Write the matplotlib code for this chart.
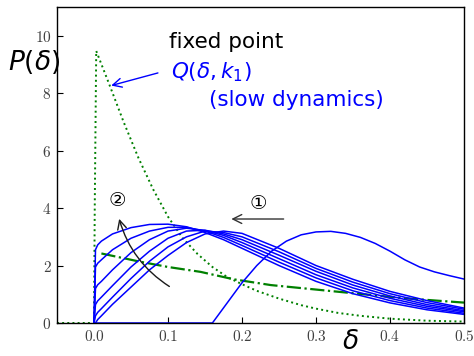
import numpy as np
import matplotlib
matplotlib.use("Agg")
import matplotlib.pyplot as plt

# fixed point Q(delta, k1), dotted green
q_d = [-0.05, 0.0, 0.001, 0.003, 0.02, 0.04, 0.06, 0.08, 0.1, 0.12, 0.14, 0.16, 0.18,
       0.2, 0.22, 0.25, 0.28, 0.3, 0.33, 0.36, 0.4, 0.45, 0.5]
q_p = [0.0, 0.0, 4.0, 9.47, 8.35, 7.0, 5.75, 4.65, 3.7, 2.95, 2.4, 1.95, 1.6,
       1.35, 1.12, 0.85, 0.62, 0.5, 0.35, 0.25, 0.15, 0.08, 0.05]

# dash-dot green curve
h_d = [0.01, 0.063, 0.1, 0.144, 0.189, 0.239, 0.329, 0.42, 0.5]
h_p = [2.42, 2.13, 1.95, 1.78, 1.52, 1.32, 1.09, 0.86, 0.71]

# family of blue curves (step 2)
fam_d = [0.0, 0.002, 0.005, 0.01, 0.025, 0.05, 0.075, 0.1, 0.125, 0.15, 0.175, 0.2,
         0.25, 0.3, 0.35, 0.4, 0.45, 0.5]
fam_a = [0, 2.55, 2.72, 2.85, 3.1, 3.32, 3.43, 3.44, 3.35, 3.15, 2.9, 2.6, 2.0, 1.45, 1.02, 0.7, 0.46, 0.3]
fam_b = [0, 1.95, 2.08, 2.2, 2.55, 2.95, 3.2, 3.33, 3.33, 3.2, 2.98, 2.7, 2.12, 1.57, 1.12, 0.78, 0.52, 0.34]
fam_c = [0, 1.2, 1.33, 1.45, 1.85, 2.45, 2.9, 3.2, 3.3, 3.22, 3.05, 2.8, 2.24, 1.68, 1.22, 0.86, 0.58, 0.39]
fam_dd = [0, 0.64, 0.77, 0.9, 1.3, 1.95, 2.5, 2.95, 3.2, 3.23, 3.1, 2.9, 2.36, 1.8, 1.32, 0.94, 0.64, 0.43]
fam_e = [0, 0.25, 0.37, 0.5, 0.9, 1.55, 2.15, 2.65, 3.0, 3.2, 3.15, 3.0, 2.48, 1.9, 1.42, 1.02, 0.71, 0.48]
fam_f = [0, 0.0, 0.12, 0.25, 0.65, 1.25, 1.85, 2.35, 2.8, 3.1, 3.2, 3.12, 2.6, 2.0, 1.52, 1.1, 0.78, 0.52]
family = [fam_a, fam_b, fam_c, fam_dd, fam_e, fam_f]

# single blue curve (step 1 start)
g_d = [0.0, 0.16, 0.18, 0.2, 0.22, 0.24, 0.26, 0.28, 0.3, 0.32, 0.34, 0.36, 0.38,
       0.4, 0.42, 0.44, 0.46, 0.48, 0.5]
g_p = [0.0, 0.0, 0.7, 1.4, 2.0, 2.5, 2.85, 3.07, 3.17, 3.19, 3.12, 2.98, 2.77,
       2.5, 2.2, 1.95, 1.78, 1.65, 1.53]

xticks = [0.0, 0.1, 0.2, 0.3, 0.4, 0.5]
yticks = [0, 2, 4, 6, 8, 10]

fig = plt.figure(figsize=(4.74, 3.56), dpi=100)
ax = fig.add_axes([57 / 474, 33 / 356, 407 / 474, 316 / 356])

ax.plot(q_d, q_p, color='green', ls=':', lw=1.4)
ax.plot(h_d, h_p, color='green', ls='-.', lw=1.6)
for ys in family:
    ax.plot(fam_d, ys, color='blue', lw=1.1)
ax.plot(g_d, g_p, color='blue', lw=1.1)

ax.set_xlim(-0.05, 0.5)
ax.set_ylim(0, 11)
ax.set_xticks(xticks)
ax.set_yticks(yticks)
ax.set_xticklabels(['$%.1f$' % v for v in xticks])
ax.set_yticklabels(['$%d$' % v for v in yticks])
for lab in ax.get_xticklabels() + ax.get_yticklabels():
    lab.set_math_fontfamily('cm')
    lab.set_fontsize(11)
    lab.set_color('0.25')
ax.tick_params(direction='in', length=4, width=0.8, pad=4)
for s in ax.spines.values():
    s.set_linewidth(1.0)

fig.text(8 / 474, 1 - 62 / 356, r'$P(\delta)$', fontsize=19, va='center', ha='left',
         math_fontfamily='dejavusans')
fig.text(350 / 474, 1 / 356, r'$\delta$', fontsize=19, va='bottom', ha='center',
         math_fontfamily='dejavusans')

ax.text(0.1007, 9.77, 'fixed point', fontsize=15.5, va='center', ha='left')
ax.text(0.1035, 8.73, r'$Q(\delta, k_1)$', fontsize=15.5, va='center', ha='left',
        color='blue', math_fontfamily='dejavusans')
ax.text(0.155, 7.76, '(slow dynamics)', fontsize=15.5, va='center', ha='left', color='blue')
ax.annotate('', xy=(0.0196, 8.24), xytext=(0.09, 8.73),
            arrowprops=dict(arrowstyle='->', color='blue', lw=1.0, mutation_scale=16))

circ = ['DejaVu Sans', 'Noto Sans CJK JP']
ax.text(0.222, 4.17, '\u2460', fontsize=14, ha='center', va='center', family=circ)
ax.annotate('', xy=(0.1818, 3.62), xytext=(0.26, 3.62),
            arrowprops=dict(arrowstyle='->', color='0.2', lw=1.0, mutation_scale=16))
ax.text(0.032, 4.28, '\u2461', fontsize=14, ha='center', va='center', family=circ)
ax.annotate('', xy=(0.033, 3.72), xytext=(0.105, 1.22),
            arrowprops=dict(arrowstyle='->', color='0.1', lw=1.0, mutation_scale=16,
                            connectionstyle='arc3,rad=-0.2'))

fig.savefig('out.png', dpi=100)
